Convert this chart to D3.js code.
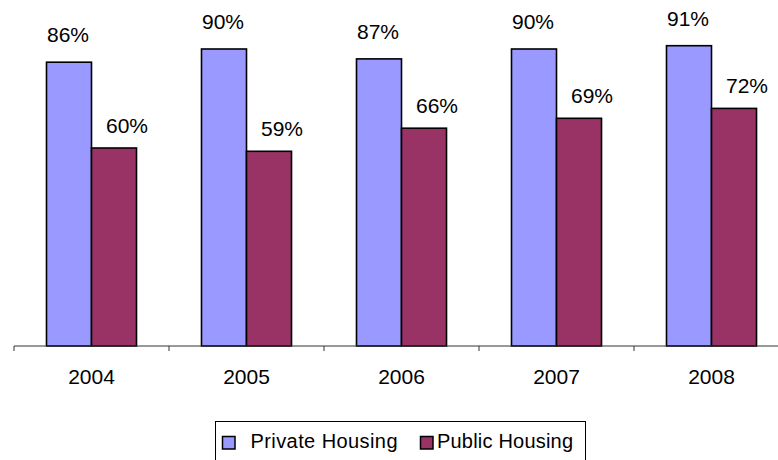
<!DOCTYPE html>
<html>
<head>
<meta charset="utf-8">
<script src="https://cdn.jsdelivr.net/npm/d3@7/dist/d3.min.js"></script>
<style>
html,body{margin:0;padding:0;background:#fff;}
svg{display:block;font-family:"Liberation Sans",Arial,sans-serif;}
</style>
</head>
<body>
<svg id="chart" width="778" height="460"></svg>
<script>
const years = ["2004","2005","2006","2007","2008"];
const seriesNames = ["Private Housing","Public Housing"];
const privateValues = [86,90,87,90,91];
const publicValues = [60,59,66,69,72];
const colors = ["#9999FF","#993366"];

const svg = d3.select("#chart");
const baseY = 346;

const x0 = d3.scaleBand().domain(years).range([14, 789]).padding(0);
const x1 = d3.scaleBand().domain(seriesNames).range([0, x0.bandwidth()]).paddingInner(0).paddingOuter(0.722);
const y = d3.scaleLinear().domain([0,100]).range([baseY, 16]);

const data = years.map((yr,i)=>({year:yr, values:[
  {name:seriesNames[0], v:privateValues[i], k:0},
  {name:seriesNames[1], v:publicValues[i], k:1}
]}));

const groups = svg.selectAll("g.grp").data(data).join("g")
  .attr("class","grp")
  .attr("transform", d=>`translate(${x0(d.year)},0)`);

groups.selectAll("rect").data(d=>d.values).join("rect")
  .attr("x", d=>x1(d.name))
  .attr("y", d=>y(d.v))
  .attr("width", x1.bandwidth())
  .attr("height", d=>baseY - y(d.v))
  .attr("fill", d=>colors[d.k])
  .attr("stroke","#000")
  .attr("stroke-width",1.6);

groups.selectAll("text.lbl").data(d=>d.values).join("text")
  .attr("class","lbl")
  .attr("x", d=>x1(d.name) + x1.bandwidth()/2 + (d.k===0 ? -1 : 13))
  .attr("y", d=>y(d.v) - (d.k===0 ? 20 : 15))
  .attr("text-anchor","middle")
  .attr("font-size","21px")
  .attr("fill","#000")
  .text(d=>d.v + "%");

// axis
const axisG = svg.append("g").attr("transform",`translate(0,${baseY})`);
axisG.append("line").attr("x1",14).attr("x2",778).attr("y1",0).attr("y2",0)
  .attr("stroke","#333").attr("stroke-width",1);
const tickPos = years.map(yr=>x0(yr)).concat([x0(years[years.length-1]) + x0.bandwidth()]);
axisG.selectAll("line.tick").data(tickPos).join("line").attr("class","tick")
  .attr("x1",d=>d).attr("x2",d=>d).attr("y1",0).attr("y2",5)
  .attr("stroke","#333").attr("stroke-width",1);
axisG.selectAll("text.yr").data(years).join("text").attr("class","yr")
  .attr("x", d=>x0(d) + x0.bandwidth()/2)
  .attr("y", 38)
  .attr("text-anchor","middle")
  .attr("font-size","21px")
  .attr("fill","#000")
  .text(d=>d);

// legend
const lg = svg.append("g");
lg.append("rect").attr("x",215.5).attr("y",421.5).attr("width",370).attr("height",60)
  .attr("fill","none").attr("stroke","#000").attr("stroke-width",1);
const legendItems = [
  {name:seriesNames[0], mx:222.5, tx:250.5, tl:147},
  {name:seriesNames[1], mx:420.5, tx:437, tl:136}
];
legendItems.forEach((it,i)=>{
  lg.append("rect").attr("x",it.mx).attr("y",436.5).attr("width",12.5).attr("height",12.5)
    .attr("fill",colors[i]).attr("stroke","#000").attr("stroke-width",1.5);
  lg.append("text").attr("x",it.tx).attr("y",447.5).attr("font-size","20px")
    .attr("textLength",it.tl).attr("lengthAdjust","spacing")
    .attr("fill","#000").text(it.name);
});
</script>
</body>
</html>
